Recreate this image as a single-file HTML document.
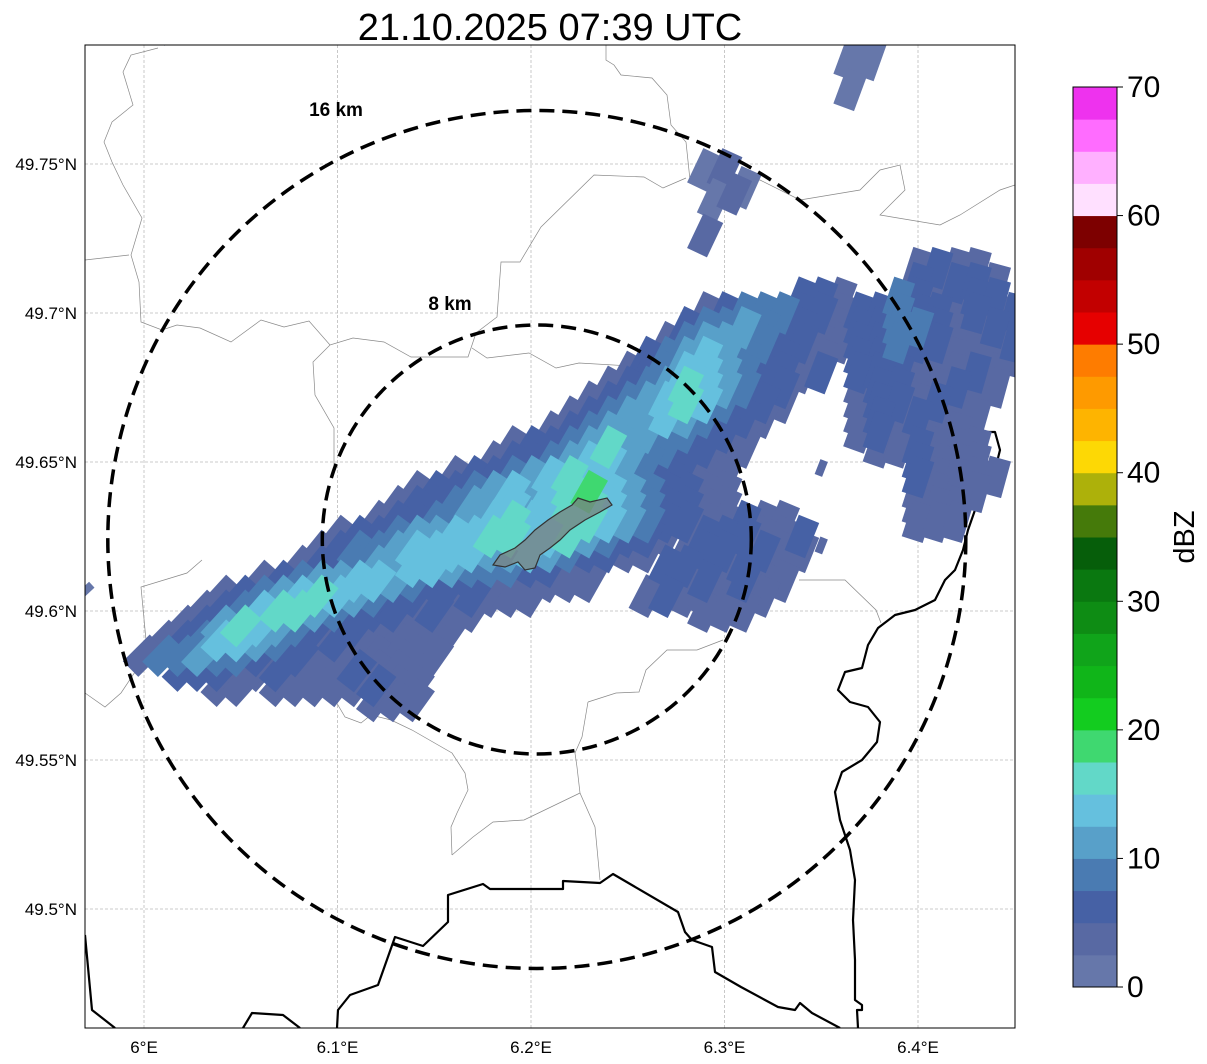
<!DOCTYPE html>
<html><head><meta charset="utf-8">
<style>
html,body{margin:0;padding:0;background:#fff;}
svg{display:block;font-family:"Liberation Sans","DejaVu Sans",sans-serif;}
</style></head>
<body>
<svg id="chart" width="1207" height="1064" viewBox="0 0 1207 1064" xmlns="http://www.w3.org/2000/svg">
<defs><clipPath id="mapclip"><rect x="85" y="45" width="930" height="983"/></clipPath></defs>
<text x="550" y="40" font-size="38" text-anchor="middle" fill="#000">21.10.2025 07:39 UTC</text>
<g id="grid"></g>
<g id="borders" clip-path="url(#mapclip)"></g>
<g id="cells" clip-path="url(#mapclip)"></g>
<g id="overlay" clip-path="url(#mapclip)"></g>
<rect x="85" y="45" width="930" height="983" fill="none" stroke="#000" stroke-width="1"/>
<g id="axes"></g>
<g id="cbar"></g>
</svg>
<script>
// ---- data ----
const lonTicks = [6.0, 6.1, 6.2, 6.3, 6.4];
const lonTickLabels = ["6°E","6.1°E","6.2°E","6.3°E","6.4°E"];
const latTicks = [49.75, 49.70, 49.65, 49.60, 49.55, 49.50];
const latTickLabels = ["49.75°N","49.7°N","49.65°N","49.6°N","49.55°N","49.5°N"];
const cbarTicks = [0,10,20,30,40,50,60,70];
const cbarColors = ["#6677aa","#5869a3","#4661a5","#4a7bb2","#58a0c9","#65c0de","#62d8c8","#3fd870","#13cc1f","#10b519","#10a41a","#0e8c14","#0a7810","#065e0a","#457a0a","#adb10a","#fdd805","#feb400","#fe9a00","#fe7c00","#e60000","#c20000","#a00000","#7d0000","#ffe0ff","#ffb0ff","#ff6cff","#ee32ee"];
const ringRadiiKm = [16, 8];
const radarCenter = [6.203, 49.624];
// rows of reflectivity cells: latitude, starting longitude, level values at 0.01° steps (null = no echo)
const rowLat = [49.715,49.710,49.705,49.700,49.695,49.690,49.685,49.680,49.675,49.670,49.665,49.660,49.655,49.650,49.645,49.640,49.635,49.630,49.625,49.620,49.615,49.610,49.605,49.600,49.595,49.590,49.585,49.580,49.575,49.570];
const rowLon0 = [6.40,6.40,6.34,6.29,6.28,6.27,6.26,6.25,6.24,6.23,6.22,6.21,6.19,6.18,6.16,6.14,6.13,6.12,6.10,6.09,6.08,6.06,6.04,6.03,6.02,6.01,6.00,6.02,6.04,6.12];
const rowDbz = [
 [2,3,2,2],
 [3,2,3,3,2],
 [3,3,2,null,null,4,3,2,2,3,3],
 [2,3,4,4,4,3,3,2,3,3,4,3,3,2,3,2,3],
 [3,4,4,5,4,3,3,2,2,3,3,4,4,3,2,2,3,2],
 [2,4,5,5,4,4,3,3,2,2,3,3,4,3,3,2,2,2,3],
 [3,4,5,6,5,4,3,3,2,2,null,3,3,2,2,2,2,2,2,2],
 [2,3,4,6,6,5,4,3,3,2,3,null,3,3,3,2,2,2,3,2],
 [2,3,4,5,7,6,5,4,3,3,null,null,null,2,3,3,2,2,3,2,2],
 [2,3,4,5,6,7,6,4,3,3,2,null,null,null,2,3,3,2,3,2,2],
 [2,3,4,5,5,6,5,4,3,3,2,null,null,null,null,2,3,2,3,2,2,2],
 [2,3,4,5,5,5,4,4,3,3,2,null,null,null,null,null,2,3,2,2,2,2],
 [2,3,3,4,5,7,5,4,4,3,3,2,2,null,null,null,null,null,null,2,2,3,2,2,2],
 [2,3,3,4,5,6,6,5,4,3,3,2,2,null,null,null,null,null,null,null,null,null,3,2,2,2],
 [2,3,3,4,5,6,7,6,5,4,3,3,2,2,2,null,null,null,null,null,null,null,null,null,3,2,2,2,2],
 [2,3,3,4,5,6,5,6,7,8,6,5,4,3,3,2,2,null,null,null,null,null,null,null,null,null,2,2,2,2],
 [2,3,3,4,5,5,6,5,6,7,7,6,5,4,3,3,2,2,null,null,null,null,null,null,null,null,null,2,2,2],
 [2,3,3,4,4,5,6,7,6,5,6,7,6,5,4,3,3,2,2,3,2,2,null,null,null,null,null,null,2,2,2],
 [2,3,3,4,5,5,6,6,7,7,6,6,7,5,4,3,3,2,null,3,3,3,2,2,3],
 [2,3,4,4,5,6,6,6,6,5,5,6,5,4,3,3,2,2,null,2,3,3,2,3,2,2],
 [2,3,3,4,5,5,6,6,5,4,4,4,3,3,2,2,null,null,null,3,3,2,2,3,2,2],
 [2,3,4,5,5,6,6,5,4,3,3,3,2,2,2,2,2,2,null,null,null,2,2,3,2,3,2,2],
 [2,3,4,5,6,7,6,5,4,3,3,2,2,3,2,2,2,null,null,null,null,null,2,3,2,2,2,2,2],
 [2,3,4,6,7,7,5,4,3,3,3,2,3,2,2,null,null,null,null,null,null,null,null,null,null,null,2,2,2],
 [2,3,5,7,6,5,4,3,2,3,2,2,2,2,2],
 [2,3,4,6,6,5,4,3,2,3,2,2,2,2,2],
 [2,4,4,5,4,4,3,2,3,2,2,2,2,2,2,2],
 [3,3,3,2,2,3,2,2,2,3,2,2,2],
 [2,2,null,2,2,2,2,2,3,2,2],
 [2,2,2]
];
const extraLon = [6.012,6.365,6.375,6.365,6.29,6.30,6.31,6.295,6.305,6.29,6.35,6.35,5.97];
const extraLat = [49.7925,49.785,49.785,49.775,49.748,49.748,49.742,49.738,49.740,49.726,49.648,49.622,49.607];
const extraDbz = [1,1,1,1,1,2,1,1,2,2,2,2,1];

// ---- axis functions ----
const X0=144, XPER=1935, Y0=164, YPER=2980;
function xOf(lon){return X0+(lon-6)*XPER;}
function yOf(lat){return Y0+(49.75-lat)*YPER;}
function levelToDbz(d){return (d-1)*2.5+1;}
const NS="http://www.w3.org/2000/svg";
function mk(tag,attrs,parent){const e=document.createElementNS(NS,tag);for(const k in attrs)e.setAttribute(k,attrs[k]);parent.appendChild(e);return e;}
function colorOf(d){let i=Math.floor(d/2.5);if(i<0)i=0;if(i>27)i=27;return cbarColors[i];}

// grid lines
const grid=document.getElementById('grid');
lonTicks.forEach(v=>{const l=mk('line',{x1:xOf(v),x2:xOf(v),y1:45,y2:1028,stroke:'#bbb','stroke-width':0.8,'stroke-dasharray':'3,2'},grid);

});
latTicks.forEach(v=>{const l=mk('line',{x1:85,x2:1015,y1:yOf(v),y2:yOf(v),stroke:'#bbb','stroke-width':0.8,'stroke-dasharray':'3,2'},grid);

});

// borders
const borders=document.getElementById('borders');
const grayLines=[
 "158,48 131,55 123,72 133,105 112,122 104,142 112,162 123,185 142,218 131,255 139,282 141,322 162,330 177,325 200,328 231,342 261,320 284,327 309,321 330,345 353,338 384,342 411,357 468,357 476,333 497,317 501,262 520,262 541,227 594,175 644,177 663,188 686,178",
 "85,260 129,255",
 "472,348 487,358 529,353 556,368 579,363 648,367 671,375",
 "330,345 313,362 315,395 334,428 334,470",
 "606,45 606,60 614,65 621,75 652,78 667,95 671,125 686,142 690,180 760,180 800,200 860,190 880,170 900,165 905,190 880,215 940,225 960,215 1000,190 1015,185",
 "335,700 345,717 361,723 371,715 391,720 412,730 452,753 465,773 468,790 457,813 451,827 452,855",
 "588,702 616,693 639,692 646,670 667,650 697,650 723,640",
 "588,702 582,737 575,753 577,767 580,793 595,827 600,880",
 "580,793 524,820 493,822 473,837 452,855",
 "85,693 105,707 121,693 141,663 146,640 141,587 187,573 202,560",
 "799,580 845,580 876,610 881,623"
];
grayLines.forEach(p=>{const e=mk('polyline',{points:p,fill:'none',stroke:'#888','stroke-width':0.7},borders);

});
const blackLines=[
 "85,935 92,1010 115,1028",
 "243,1028 252,1013 283,1015 300,1028",
 "337,1028 338,1010 350,995 378,985 395,937 423,946 448,922 448,895 483,884 490,889 563,889 563,881 600,883 613,874 678,912 685,932 692,940 712,947 715,972 741,987 765,1000 778,1007 795,1010 800,1003 812,1013 840,1028",
 "1015,368 995,390 978,405 968,420 975,432 995,432 1000,450 995,470 985,490 975,510 968,530 963,550 955,570 945,580 935,600 915,610 895,615 878,628 868,645 862,668 845,672 838,690 850,702 868,707 880,722 877,742 862,760 842,772 835,792 840,820 850,850 855,880 853,920 855,960 855,1000 862,1005 862,1010 857,1010 858,1028"
];
blackLines.forEach(p=>{const e=mk('polyline',{points:p,fill:'none',stroke:'#000','stroke-width':2.2,'stroke-linejoin':'round'},borders);

});

// radar cells
const cells=document.getElementById('cells');
function drawCell(lon,lat,dbz,small){
 const cx=xOf(lon), cy=yOf(lat);
 const ang=45-30*(cx-150)/850;
 const w=small?8:22, h=small?16:38;
 const r=mk('rect',{x:cx-w/2,y:cy-h/2,width:w,height:h,fill:colorOf(dbz),transform:`rotate(${ang.toFixed(1)} ${cx.toFixed(1)} ${cy.toFixed(1)})`},cells);
 
 
}
for(let pass=0;pass<30;pass++){
 rowLat.forEach((lat,i)=>{rowDbz[i].forEach((d,j)=>{if(d!==null&&d===pass)drawCell(rowLon0[i]+j*0.01,lat,levelToDbz(d),false);});});
}
extraLon.forEach((lon,i)=>drawCell(lon,extraLat[i],levelToDbz(extraDbz[i]),i===0||i>=10));

// overlay: city polygon, rings, labels
const ov=document.getElementById('overlay');
const city=mk('polygon',{points:"493,565 500,555 515,548 525,540 535,530 548,520 560,512 572,505 578,498 590,502 607,498 612,505 600,512 585,520 570,530 560,540 550,548 540,555 535,568 525,570 518,562 505,567",fill:'rgba(120,130,130,0.75)',stroke:'#333','stroke-width':1.2},ov);


const pxPerKm=429/16;
const ccx=xOf(radarCenter[0]), ccy=yOf(radarCenter[1]);
const ringLabelPos=[[336,116],[450,310]];
ringRadiiKm.forEach((km,i)=>{const c=mk('circle',{cx:ccx,cy:ccy,r:km*pxPerKm,fill:'none',stroke:'#000','stroke-width':3.5,'stroke-dasharray':'15,8'},ov);


const t=mk('text',{x:ringLabelPos[i][0],y:ringLabelPos[i][1],'font-size':19,'font-weight':'bold','text-anchor':'middle',fill:'#000'},ov);
t.textContent=km+' km';

});

// axes labels
const axes=document.getElementById('axes');
lonTicks.forEach((v,i)=>{const t=mk('text',{x:xOf(v),y:1053,'font-size':17,'text-anchor':'middle',fill:'#000'},axes);t.textContent=lonTickLabels[i];

});
latTicks.forEach((v,i)=>{const t=mk('text',{x:77,y:yOf(v)+6,'font-size':17,'text-anchor':'end',fill:'#000'},axes);t.textContent=latTickLabels[i];

});

// colorbar
const cb=document.getElementById('cbar');
const CB_X=1073, CB_W=44, CB_TOP=87, CB_BOT=987;
function cbY(v){return CB_BOT-(v/70)*(CB_BOT-CB_TOP);}
cbarColors.forEach((c,i)=>{const r=mk('rect',{x:CB_X,y:cbY((i+1)*2.5),width:CB_W,height:cbY(i*2.5)-cbY((i+1)*2.5)+0.5,fill:c},cb);

});
const fr=mk('rect',{x:CB_X,y:CB_TOP,width:CB_W,height:CB_BOT-CB_TOP,fill:'none',stroke:'#000','stroke-width':1},cb);


cbarTicks.forEach(v=>{mk('line',{x1:CB_X+CB_W,x2:CB_X+CB_W+6,y1:cbY(v),y2:cbY(v),stroke:'#000','stroke-width':1},cb);
const t=mk('text',{x:1127,y:cbY(v)+10,'font-size':30,fill:'#000'},cb);t.textContent=v;

});
const lab=mk('text',{x:1194,y:537,'font-size':29,'text-anchor':'middle',fill:'#000',transform:'rotate(-90 1194 537)'},cb);
lab.textContent='dBZ';


</script>
</body></html>
